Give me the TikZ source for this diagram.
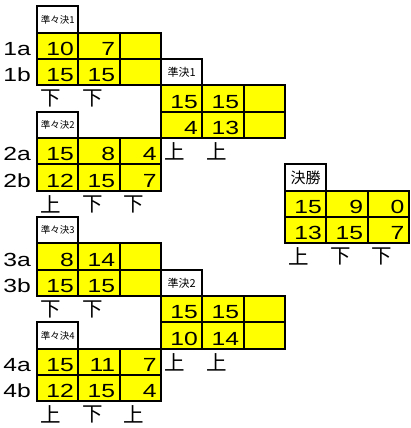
\documentclass[tikz,border=0pt]{standalone}
\usepackage{fontspec}
\setmainfont{Liberation Sans}[FakeStretch=1.3]
\newfontfamily\jpfont{Noto Sans CJK JP}
\usetikzlibrary{positioning}
\definecolor{cellyellow}{HTML}{FFFF00}
\tikzset{
  cell/.style={draw,line width=2pt,fill=cellyellow,minimum height=26.33pt,text width=32.33pt,
    inner xsep=4.5pt,inner ysep=0pt,text height=22.83pt,text depth=3.5pt,align=right,
    font=\fontsize{19}{20}\selectfont},
  tagbox/.style={draw,line width=2pt,fill=white,minimum width=41.33pt,minimum height=26.33pt,inner sep=0pt},
  rowlab/.style={anchor=base east,inner sep=0pt,font=\fontsize{19}{20}\selectfont},
  result/.style={inner sep=0pt,font=\jpfont\fontsize{20.5}{21}\selectfont}
}

\begin{document}
\begin{tikzpicture}
\useasboundingbox (0,0) rectangle (410pt,-428pt);
\begin{scope}[shift={(37pt,-6.5pt)},x=41.33pt,y=-26.33pt]
% quarter-final 1
\node[tagbox,font=\jpfont\fontsize{9.5}{10}\selectfont] (t1) at (0.5,0.5) {準々決1};
\foreach \v [count=\i] in {10,7,{}} \node[cell] (q1a\i) at (\i-0.5,1.5) {\v};
\foreach \v [count=\i] in {15,15,{}} \node[cell] (q1b\i) at (\i-0.5,2.5) {\v};
\node[rowlab] (l1a) at ([xshift=-5pt]q1a1.base west) {1a};
\node[rowlab] (l1b) at ([xshift=-5pt]q1b1.base west) {1b};
\foreach \v [count=\i] in {下,下} \node[result] (w1\i) at (\i-0.66,3.5) {\v};
% quarter-final 2
\node[tagbox,font=\jpfont\fontsize{9.5}{10}\selectfont] (t2) at (0.5,4.5) {準々決2};
\foreach \v [count=\i] in {15,8,4} \node[cell] (q2a\i) at (\i-0.5,5.5) {\v};
\foreach \v [count=\i] in {12,15,7} \node[cell] (q2b\i) at (\i-0.5,6.5) {\v};
\node[rowlab] (l2a) at ([xshift=-5pt]q2a1.base west) {2a};
\node[rowlab] (l2b) at ([xshift=-5pt]q2b1.base west) {2b};
\foreach \v [count=\i] in {上,下,下} \node[result] (w2\i) at (\i-0.66,7.5) {\v};
% quarter-final 3
\node[tagbox,font=\jpfont\fontsize{9.5}{10}\selectfont] (t3) at (0.5,8.5) {準々決3};
\foreach \v [count=\i] in {8,14,{}} \node[cell] (q3a\i) at (\i-0.5,9.5) {\v};
\foreach \v [count=\i] in {15,15,{}} \node[cell] (q3b\i) at (\i-0.5,10.5) {\v};
\node[rowlab] (l3a) at ([xshift=-5pt]q3a1.base west) {3a};
\node[rowlab] (l3b) at ([xshift=-5pt]q3b1.base west) {3b};
\foreach \v [count=\i] in {下,下} \node[result] (w3\i) at (\i-0.66,11.5) {\v};
% quarter-final 4
\node[tagbox,font=\jpfont\fontsize{9.5}{10}\selectfont] (t4) at (0.5,12.5) {準々決4};
\foreach \v [count=\i] in {15,11,7} \node[cell] (q4a\i) at (\i-0.5,13.5) {\v};
\foreach \v [count=\i] in {12,15,4} \node[cell] (q4b\i) at (\i-0.5,14.5) {\v};
\node[rowlab] (l4a) at ([xshift=-5pt]q4a1.base west) {4a};
\node[rowlab] (l4b) at ([xshift=-5pt]q4b1.base west) {4b};
\foreach \v [count=\i] in {上,下,上} \node[result] (w4\i) at (\i-0.66,15.5) {\v};
% semi-finals
\node[tagbox,font=\jpfont\fontsize{11}{12}\selectfont] (s1) at (3.5,2.5) {準決1};
\foreach \v [count=\i] in {15,15,{}} \node[cell] (s1a\i) at (\i+2.5,3.5) {\v};
\foreach \v [count=\i] in {4,13,{}} \node[cell] (s1b\i) at (\i+2.5,4.5) {\v};
\foreach \v [count=\i] in {上,上} \node[result] (v1\i) at (\i+2.34,5.5) {\v};
\node[tagbox,font=\jpfont\fontsize{11}{12}\selectfont] (s2) at (3.5,10.5) {準決2};
\foreach \v [count=\i] in {15,15,{}} \node[cell] (s2a\i) at (\i+2.5,11.5) {\v};
\foreach \v [count=\i] in {10,14,{}} \node[cell] (s2b\i) at (\i+2.5,12.5) {\v};
\foreach \v [count=\i] in {上,上} \node[result] (v2\i) at (\i+2.34,13.5) {\v};
% final
\node[tagbox,font=\jpfont\fontsize{15}{16}\selectfont] (f0) at (6.5,6.5) {決勝};
\foreach \v [count=\i] in {15,9,0} \node[cell] (fa\i) at (\i+5.5,7.5) {\v};
\foreach \v [count=\i] in {13,15,7} \node[cell] (fb\i) at (\i+5.5,8.5) {\v};
\foreach \v [count=\i] in {上,下,下} \node[result] (u\i) at (\i+5.34,9.5) {\v};
\end{scope}
\end{tikzpicture}
\end{document}
